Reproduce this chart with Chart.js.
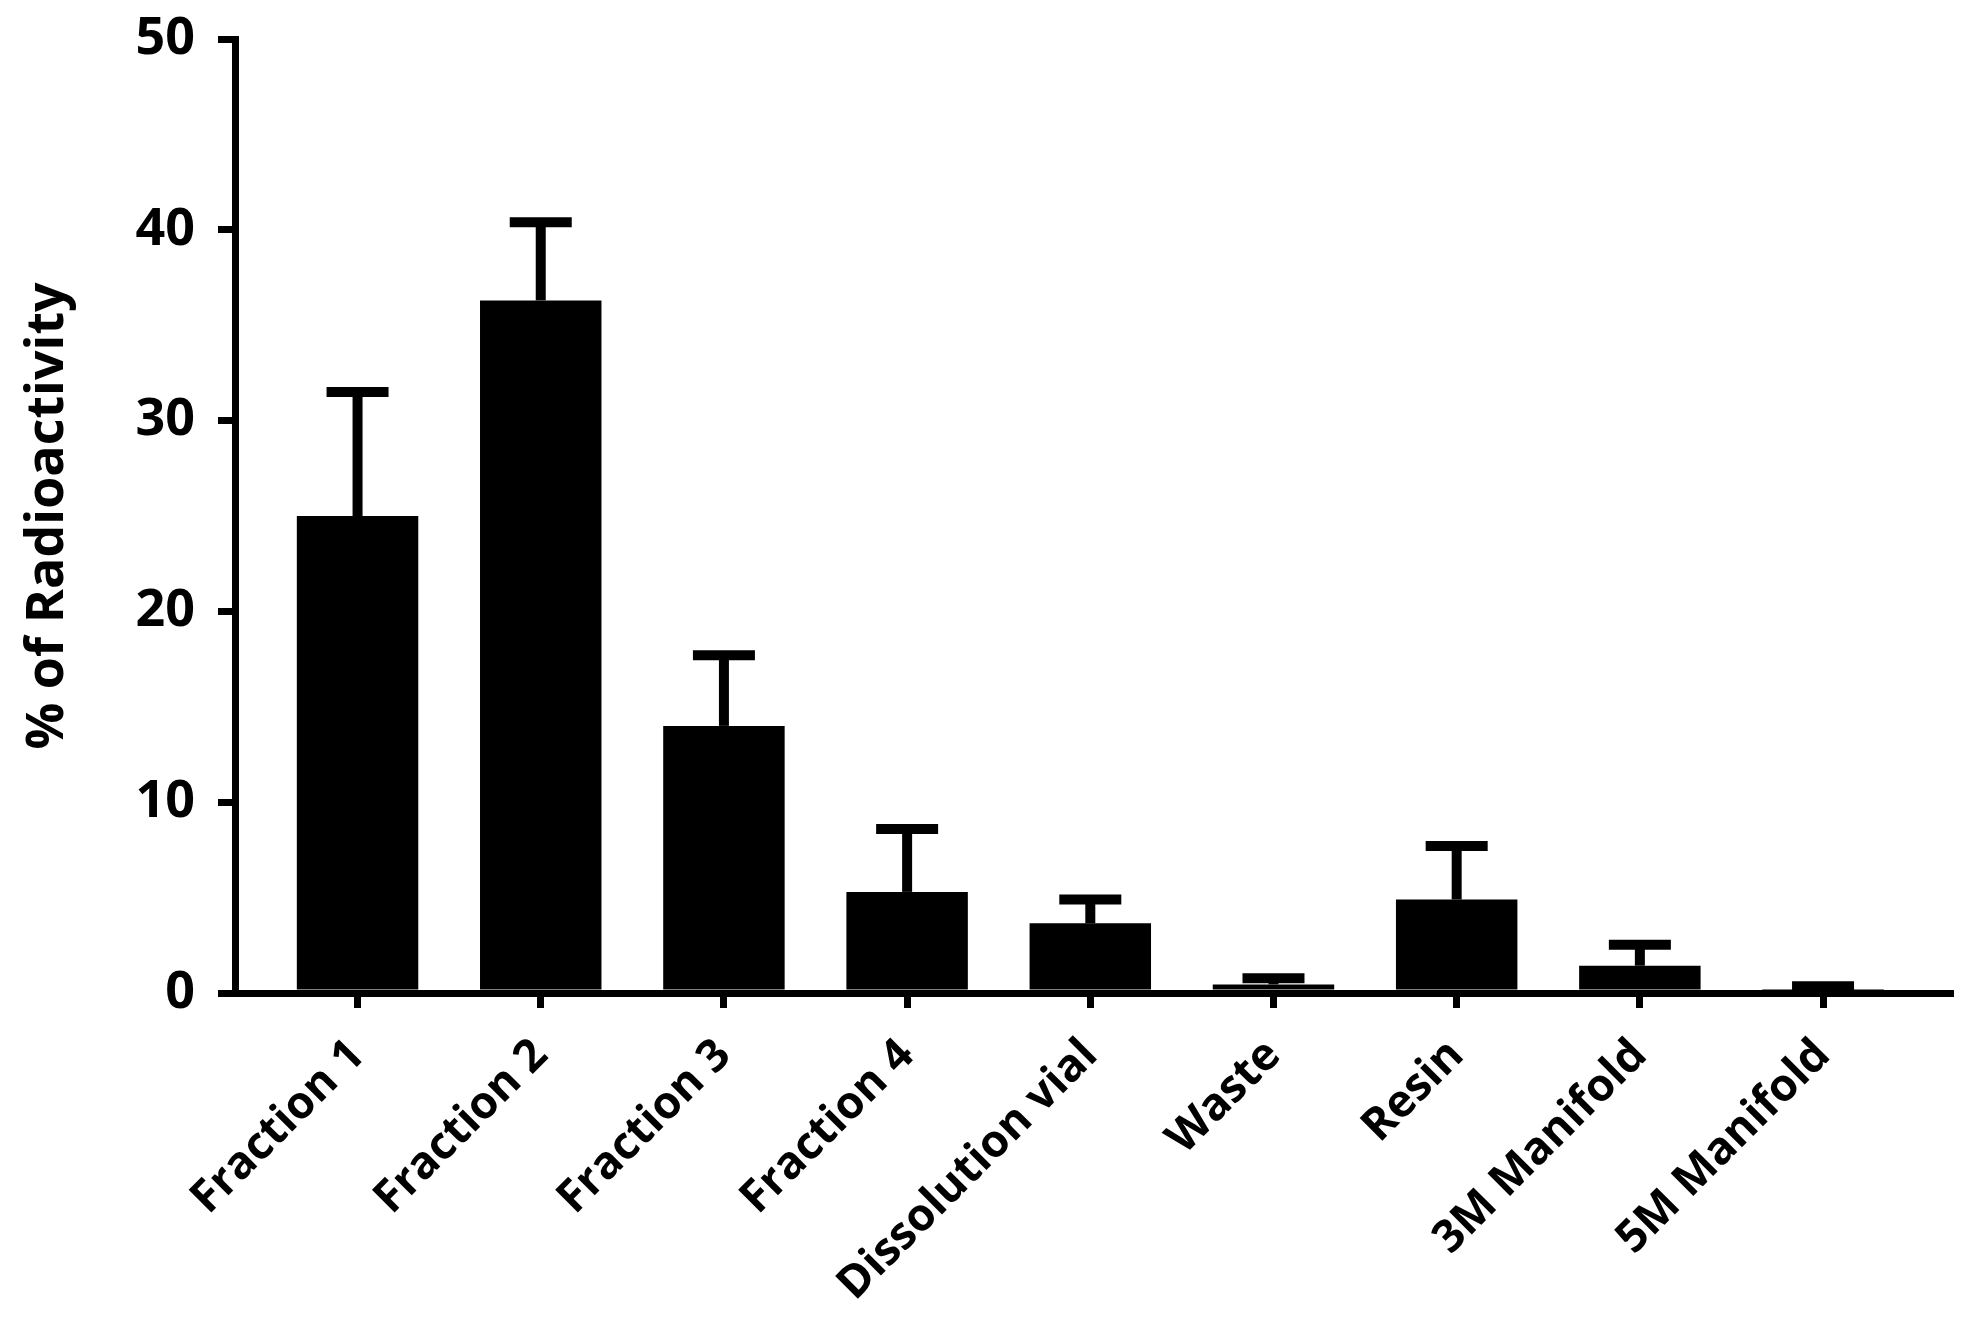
<!DOCTYPE html>
<html>
<head>
<meta charset="utf-8">
<script src="https://cdn.jsdelivr.net/npm/chart.js@4"></script>
<style>
  html, body { margin: 0; padding: 0; background: #fff; }
  #wrap { width: 1968px; height: 1324px; }
</style>
</head>
<body>
<div id="wrap"><canvas id="grafico" width="1968" height="1324"></canvas></div>
<script>
// categories and values
var categorias = ['Fraction 1', 'Fraction 2', 'Fraction 3', 'Fraction 4', 'Dissolution vial',
                  'Waste', 'Resin', '3M Manifold', '5M Manifold'];
var medias = [25.0, 36.3, 14.0, 5.3, 3.65, 0.45, 4.9, 1.43, 0.05];  // % of radioactivity
var desvios = [6.5, 4.1, 3.7, 3.3, 1.25, 0.32, 2.8, 1.1, 0.3];      // upper error bar
var yTicks = [0, 10, 20, 30, 40, 50];

var fonte = "'Open Sans', 'DejaVu Sans', sans-serif";

// desenha as barras de erro (só a parte de cima, como no original)
var barrasErro = {
    id: 'barrasErro',
    afterDatasetsDraw: function(chart) {
        var ctx = chart.ctx;
        var xs = chart.scales.x, ys = chart.scales.y;
        ctx.save();
        ctx.strokeStyle = '#000';
        ctx.lineCap = 'butt';
        for (var i = 0; i < medias.length; i++) {
            var x = xs.getPixelForValue(i);
            var yBase = ys.getPixelForValue(medias[i]);
            var yTopo = ys.getPixelForValue(medias[i] + desvios[i]);
            ctx.lineWidth = 10;
            ctx.beginPath();
            ctx.moveTo(x, yBase);
            ctx.lineTo(x, yTopo);
            ctx.stroke();
            ctx.beginPath();
            ctx.moveTo(x - 31, yTopo);
            ctx.lineTo(x + 31, yTopo);
            ctx.stroke();
        }
        ctx.restore();
    }
};

var ctx = document.getElementById('grafico').getContext('2d');
var grafico = new Chart(ctx, {
    type: 'bar',
    data: {
        datasets: [{
            label: '% of Radioactivity',
            data: categorias.map(function(c, i) { return { x: i, y: medias[i] }; }),
            backgroundColor: '#000',
            borderWidth: 0,
            barPercentage: 0.663,
            categoryPercentage: 1.0
        }]
    },
    options: {
        responsive: false,
        animation: false,
        devicePixelRatio: 1,
        layout: { padding: { top: 39, right: 18, bottom: 0, left: 0 } },
        plugins: {
            legend: { display: false },
            tooltip: { enabled: false }
        },
        scales: {
            x: {
                type: 'linear',
                min: -0.669,
                max: 8.693,
                offset: false,
                afterBuildTicks: function(s) {
                    s.ticks = categorias.map(function(c, i) { return { value: i }; });
                },
                afterFit: function(s) {
                    s.height = 1324 - 993;
                    s.paddingLeft = 0;
                    s.paddingRight = 0;
                },
                grid: {
                    display: true,
                    offset: false,
                    drawOnChartArea: false,
                    drawTicks: true,
                    tickLength: 15,
                    lineWidth: 7,
                    color: '#000'
                },
                border: { display: true, color: '#000', width: 7 },
                ticks: {
                    autoSkip: false,
                    minRotation: 45,
                    maxRotation: 45,
                    padding: 21,
                    color: '#000',
                    font: { family: fonte, size: 45, weight: 'bold' },
                    callback: function(v) { return categorias[v]; }
                }
            },
            y: {
                min: 0,
                max: 50,
                afterBuildTicks: function(s) {
                    s.ticks = yTicks.map(function(v) { return { value: v }; });
                },
                afterFit: function(s) {
                    s.width = 235;
                    s.paddingTop = 0;
                    s.paddingBottom = 0;
                },
                grid: {
                    display: true,
                    drawOnChartArea: false,
                    drawTicks: true,
                    tickLength: 17,
                    lineWidth: 7,
                    color: '#000'
                },
                border: { display: true, color: '#000', width: 7 },
                ticks: {
                    padding: 23,
                    color: '#000',
                    font: { family: fonte, size: 52, weight: 'bold' }
                },
                title: {
                    display: true,
                    text: '% of Radioactivity',
                    color: '#000',
                    padding: { top: 17, bottom: 0 },
                    font: { family: fonte, size: 52, weight: 'bold' }
                }
            }
        }
    },
    plugins: [barrasErro]
});
</script>
</body>
</html>
